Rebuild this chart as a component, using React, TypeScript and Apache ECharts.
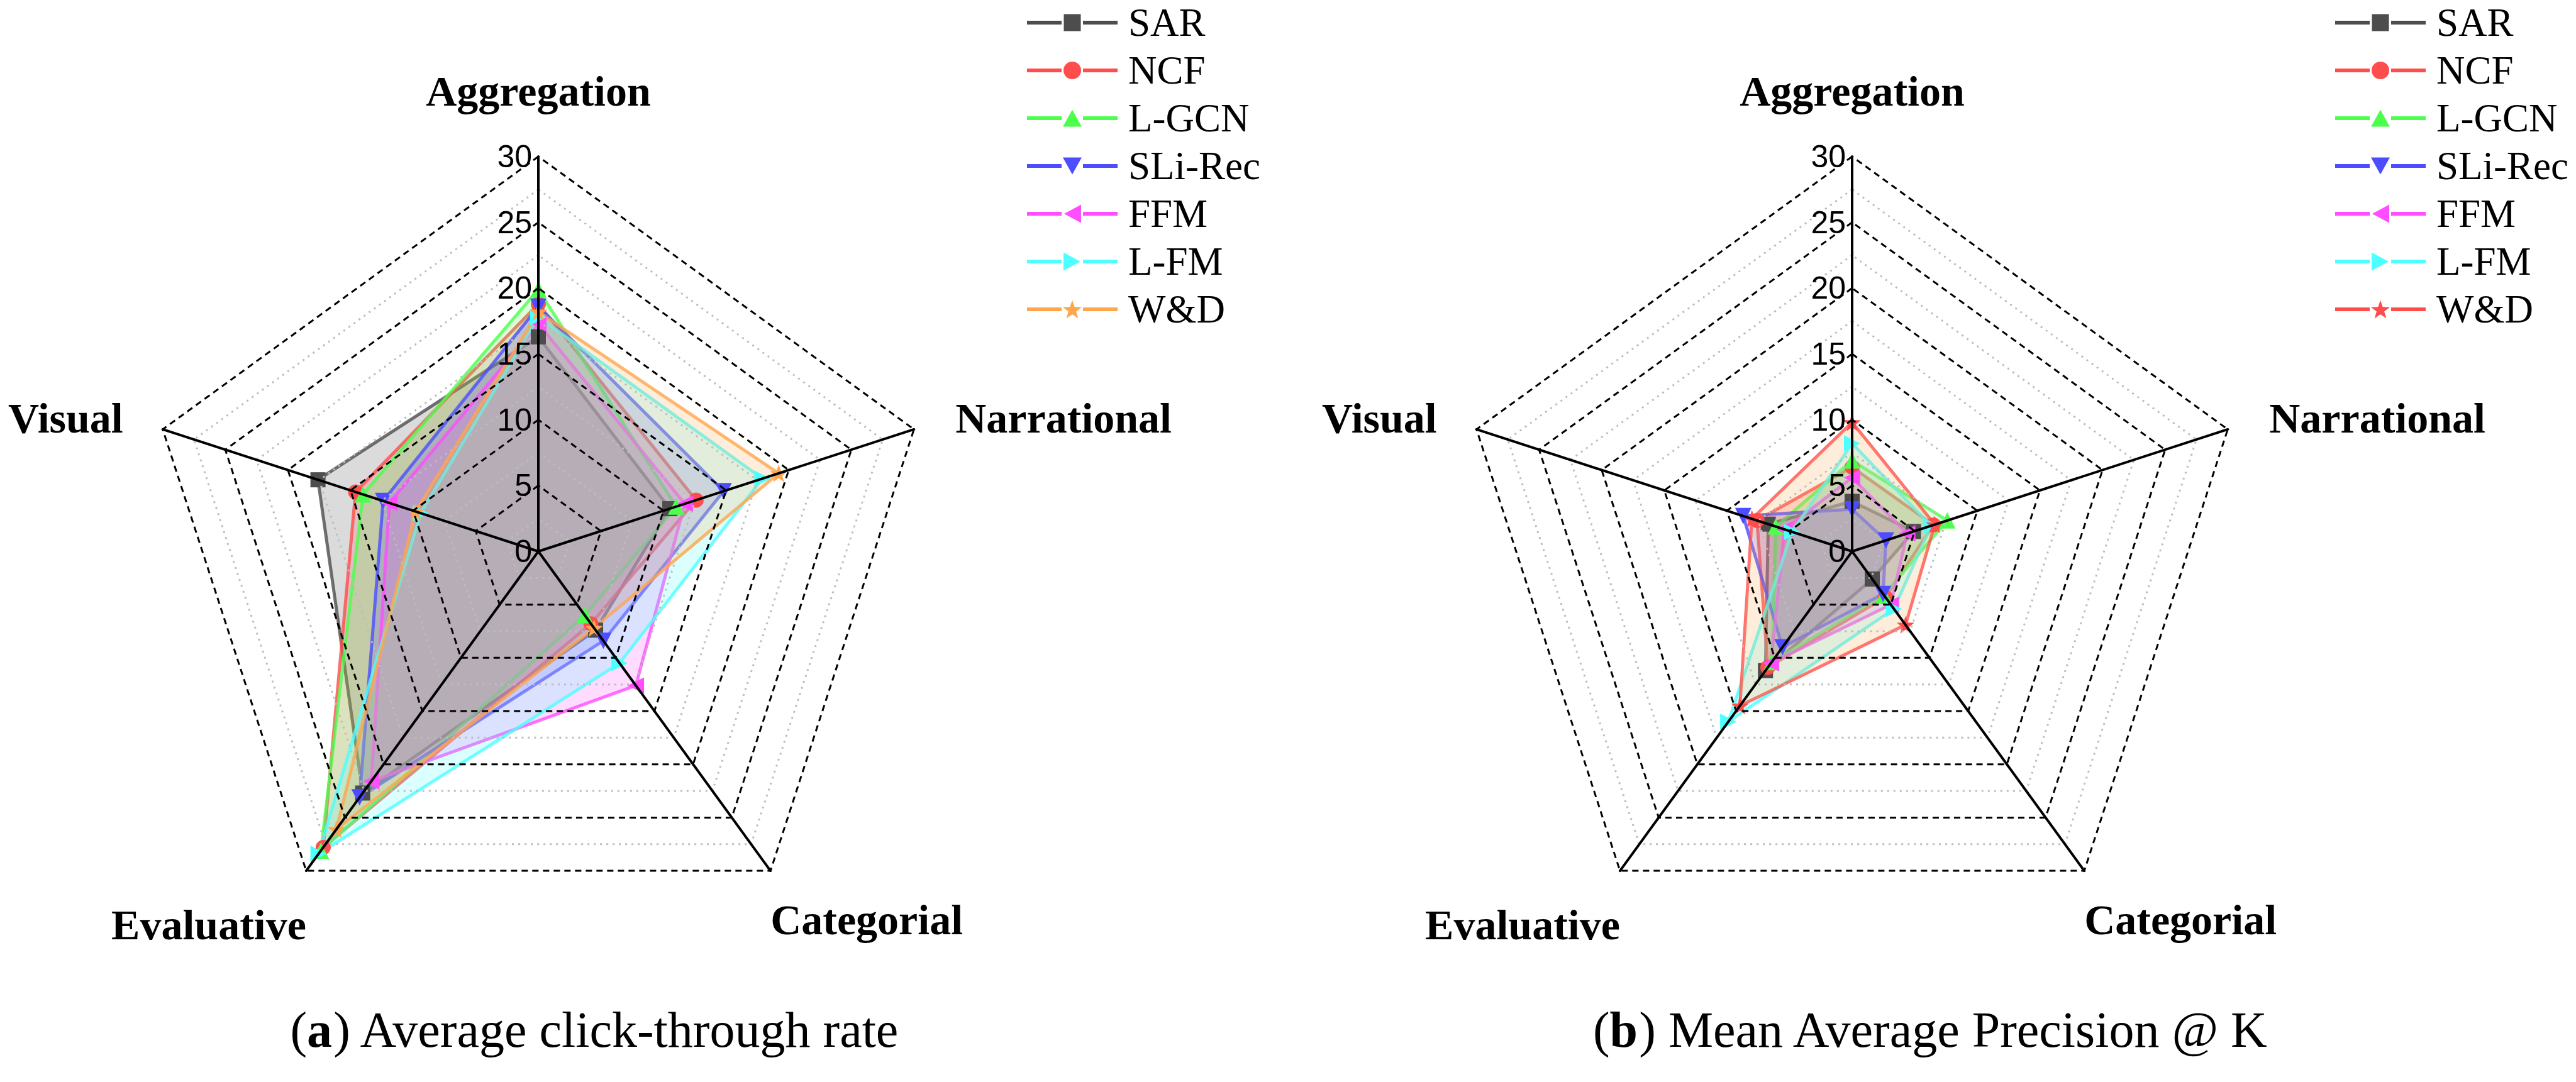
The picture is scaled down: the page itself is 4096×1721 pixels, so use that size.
import React, { useEffect, useRef } from 'react';
import * as echarts from 'echarts';

// ---------- data ----------
const indicators = ['Aggregation', 'Visual', 'Evaluative', 'Categorial', 'Narrational'];
const axisMin = 0;
const axisMax = 30;
const models = ['SAR', 'NCF', 'L-GCN', 'SLi-Rec', 'FFM', 'L-FM', 'W&D'];

// (a) Average click-through rate — values follow `indicators` order
const ctrSAR = [16.3, 17.6, 22.7, 7.4, 10.5];
const ctrNCF = [18.8, 14.6, 27.8, 6.8, 12.6];
const ctrLGCN = [19.9, 14.0, 28.1, 6.0, 11.0];
const ctrSLiRec = [18.6, 12.4, 23.1, 8.4, 14.8];
const ctrFFM = [17.3, 11.9, 21.6, 12.6, 11.7];
const ctrLFM = [17.8, 9.4, 28.4, 10.5, 17.9];
const ctrWD = [18.2, 9.8, 26.1, 7.2, 19.2];

// (b) Mean Average Precision @ K
const mapSAR = [3.8, 6.7, 11.2, 2.6, 4.9];
const mapNCF = [6.4, 7.6, 10.9, 4.3, 6.5];
const mapLGCN = [6.9, 6.1, 10.4, 4.1, 7.6];
const mapSLiRec = [3.2, 8.7, 9.0, 4.0, 2.7];
const mapFFM = [5.6, 5.4, 10.5, 5.0, 4.4];
const mapLFM = [8.2, 4.8, 16.0, 5.4, 6.3];
const mapWD = [9.8, 8.0, 14.5, 6.9, 6.6];

const captionA = 'Average click-through rate';
const captionB = 'Mean Average Precision @ K';

// ---------- styles ----------
const SERIF = '"Liberation Serif", "Times New Roman", serif';
const SANS = '"Liberation Sans", Arial, sans-serif';

const lineColorsA = ['#4d4d4d', '#ff4d4d', '#4dff4d', '#4d4dff', '#ff4dff', '#4dffff', '#ffa64d'];
const areaColorsA = lineColorsA;
const lineColorsB = ['#4d4d4d', '#ff4d4d', '#4dff4d', '#4d4dff', '#ff4dff', '#4dffff', '#ff4d4d'];
const areaColorsB = ['#4d4d4d', '#ff4d4d', '#4dff4d', '#4d4dff', '#ff4dff', '#4dffff', '#ffa64d'];

const R = 628;
const CENTER_A = [856, 877];
const CENTER_B = [2945, 877];
const B_SUFFIX = ' (b)';

function starPath(cx: number, cy: number, ro: number, ri: number) {
  const pts: string[] = [];
  for (let k = 0; k < 10; k++) {
    const r = k % 2 === 0 ? ro : ri;
    const a = -Math.PI / 2 + (k * Math.PI) / 5;
    pts.push(`${(cx + r * Math.cos(a)).toFixed(2)},${(cy + r * Math.sin(a)).toFixed(2)}`);
  }
  return 'M' + pts.join(' L') + ' Z';
}

const chartSymbols = [
  'rect',
  'circle',
  'triangle',
  'path://M0,0 L20,0 L10,17.3 Z',
  'path://M17.3,0 L17.3,20 L0,10 Z',
  'path://M0,0 L0,20 L17.3,10 Z',
  'path://' + starPath(10, 10.5, 10.5, 4.2),
];
const chartSymbolSizes = [24, 24, 26, 26, 26, 26, 28];

// legend icon: 144 x 30 box, line segments with a marker in the middle
const legendLine = 'M0,12 L55,12 L55,18 L0,18 Z M89,12 L144,12 L144,18 L89,18 Z ';
const legendMarkers = [
  'M58.5,1.5 L85.5,1.5 L85.5,28.5 L58.5,28.5 Z',
  'M58,15 A14,14 0 1 1 86,15 A14,14 0 1 1 58,15 Z',
  'M72,1.5 L87,28.5 L57,28.5 Z',
  'M57,1.5 L87,1.5 L72,28.5 Z',
  'M86,0.5 L86,29.5 L59,15 Z',
  'M58,0.5 L58,29.5 L85,15 Z',
  starPath(72, 16.5, 16, 6.4),
];
const legendIcons = legendMarkers.map((m) => 'path://' + legendLine + m);

const nameRich: Record<string, any> = {
  Aggregation: { padding: [0, 0, 45, 0] },
  Visual: { padding: [0, 63, 36, 0] },
  Evaluative: { padding: [172, 0, 0, 0] },
  Categorial: { padding: [156, 0, 0, 0] },
  Narrational: { padding: [0, 0, 36, 66] },
};
Object.keys(nameRich).forEach((k) => {
  nameRich[k] = { ...nameRich[k], fontSize: 68, lineHeight: 68, fontWeight: 'bold', fontFamily: SERIF, color: '#000' };
});

function radarPair(center: number[]) {
  const common = {
    center,
    radius: R,
    startAngle: 90,
    shape: 'polygon',
    z: 3,
    axisTick: { show: false },
    splitArea: { show: false },
  };
  const dotted = {
    ...common,
    splitNumber: 12,
    indicator: indicators.map((n) => ({ name: n, min: axisMin, max: axisMax })),
    axisName: { show: false },
    axisLine: { show: false },
    axisLabel: { show: false },
    splitLine: { show: true, lineStyle: { color: ['rgba(0,0,0,0)', '#bdbdbd'], width: 3, type: [3, 7] } },
  };
  const main = {
    ...common,
    splitNumber: 6,
    nameGap: 0,
    indicator: indicators.map((n, i) =>
      i === 0 ? { name: n, min: axisMin, max: axisMax, axisLabel: { show: true } } : { name: n, min: axisMin, max: axisMax }
    ),
    axisName: {
      show: true,
      formatter: (name: string) => `{${name}|${name}}`,
      color: '#000',
      fontSize: 68,
      fontWeight: 'bold',
      fontFamily: SERIF,
      rich: nameRich,
    },
    axisLine: { show: true, lineStyle: { color: '#000', width: 4 } },
    axisLabel: { show: false, color: '#000', fontSize: 50, fontFamily: SANS, margin: 10 },
    splitLine: { show: true, lineStyle: { color: '#000', width: 3, type: [10, 7] } },
  };
  return [dotted, main];
}

function buildItems(valueSets: number[][], lineColors: string[], areaColors: string[], suffix: string) {
  return models.map((m, i) => ({
    name: m + suffix,
    value: valueSets[i],
    symbol: chartSymbols[i],
    symbolSize: chartSymbolSizes[i],
    itemStyle: { color: lineColors[i] },
    lineStyle: { color: lineColors[i], width: 5, opacity: 0.8 },
    areaStyle: { color: areaColors[i], opacity: 0.2 },
  }));
}

function legendFor(left: number, suffix: string) {
  return {
    orient: 'vertical',
    left,
    top: 4,
    padding: 0,
    itemWidth: 144,
    itemHeight: 30,
    itemGap: 12,
    selectedMode: false,
    data: models.map((m, i) => ({ name: m + suffix, icon: legendIcons[i] })),
    formatter: (name: string) => name.replace(B_SUFFIX, ''),
    textStyle: { fontFamily: SERIF, fontSize: 63, color: '#000', lineHeight: 64, padding: [0, 0, 0, 12] },
    itemStyle: { borderWidth: 0 },
  };
}

const valuesA = [ctrSAR, ctrNCF, ctrLGCN, ctrSLiRec, ctrFFM, ctrLFM, ctrWD];
const valuesB = [mapSAR, mapNCF, mapLGCN, mapSLiRec, mapFFM, mapLFM, mapWD];

function captionText(x: number, letter: string, caption: string) {
  return {
    type: 'text',
    x,
    y: 1638,
    style: {
      text: `({b|${letter}}) ${caption}`,
      fill: '#000',
      fontSize: 80,
      fontFamily: SERIF,
      align: 'center',
      verticalAlign: 'middle',
      rich: { b: { fontWeight: 'bold', fontSize: 80, fontFamily: SERIF, fill: '#000' } },
    },
  };
}

const option: any = {
  animation: false,
  backgroundColor: '#ffffff',
  radar: [...radarPair(CENTER_A), ...radarPair(CENTER_B)],
  legend: [legendFor(1633, ''), legendFor(3713, B_SUFFIX)],
  series: [
    { type: 'radar', radarIndex: 1, z: 2, data: buildItems(valuesA, lineColorsA, areaColorsA, '') },
    { type: 'radar', radarIndex: 3, z: 2, data: buildItems(valuesB, lineColorsB, areaColorsB, B_SUFFIX) },
  ],
  graphic: [captionText(946, 'a', captionA), captionText(3070, 'b', captionB)],
};

export default function App() {
  const ref = useRef<HTMLDivElement>(null);
  useEffect(() => {
    const chart = echarts.init(ref.current as HTMLDivElement, undefined, { renderer: 'svg', width: 4096, height: 1721 });
    chart.setOption(option);
    return () => chart.dispose();
  }, []);
  return (
    <div
      ref={ref}
      style={{ position: 'fixed', left: 0, top: 0, width: 4096, height: 1721, background: '#fff' }}
    />
  );
}
